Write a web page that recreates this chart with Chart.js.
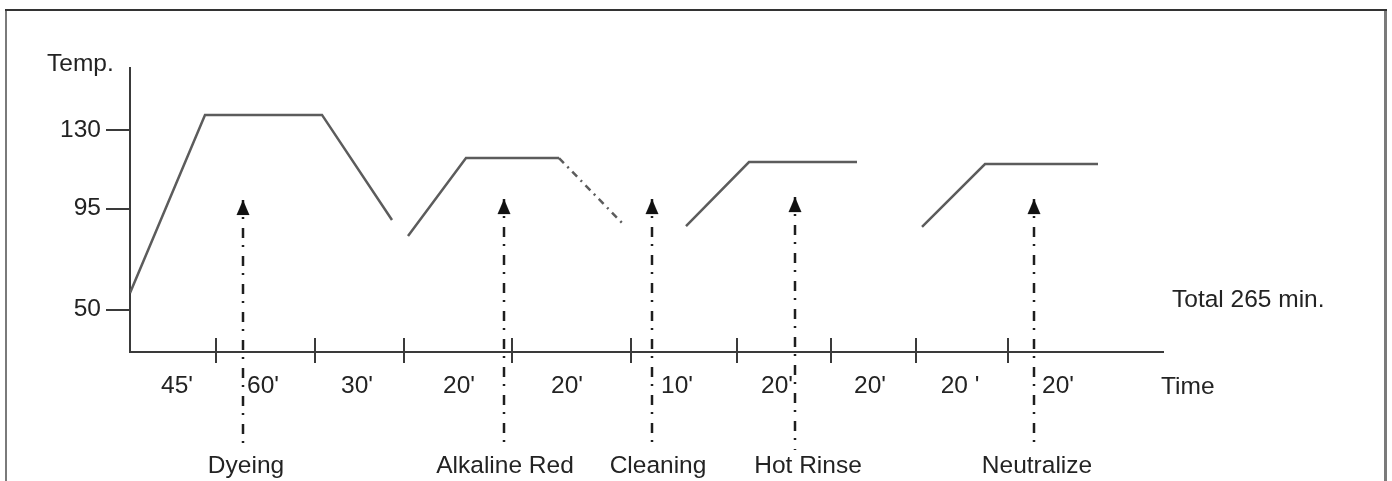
<!DOCTYPE html>
<html>
<head>
<meta charset="utf-8">
<script src="https://cdn.jsdelivr.net/npm/chart.js@4.4.1/dist/chart.umd.min.js"></script>
<style>
  html, body { margin: 0; padding: 0; background: #fff; }
  canvas { display: block; }
</style>
</head>
<body>
<canvas id="profile" width="1392" height="481"></canvas>
<script>
// temperature ticks
const yTicks = [50, 95, 130];

// time steps along the (schematic) time axis
const stepLabels = ["45'", "60'", "30'", "20'", "20'", "10'", "20'", "20'", "20 '", "20'"];
const stepLabelPos = [47, 133, 227, 329, 437, 547, 647, 740, 830, 928];
const stepBounds = [86, 185, 274, 382, 501, 607, 701, 786, 878];

// process stages (arrows)
const stages = ['Dyeing', 'Alkaline Red', 'Cleaning', 'Hot Rinse', 'Neutralize'];
const stagePos = [113, 374, 522, 665, 904];
const stageLabelPos = [116, 375, 528, 678, 907];
const stageTip = [98.8, 99.2, 99.2, 100.1, 99.2];
const stemBottom = -12.5;

// temperature profile pieces
const dyeingX = [0, 75, 192, 262];
const dyeingY = [57.4, 136.7, 136.7, 89.9];
const alkalineX = [278, 336, 429, 494];
const alkalineY = [82.8, 117.5, 117.5, 87.7];
const rinseX = [556, 619, 727];
const rinseY = [87.2, 115.7, 115.7];
const neutralX = [792, 855, 968];
const neutralY = [86.8, 114.8, 114.8];

const TEXT = '#232323';
const FAMILY = '"Liberation Sans", Arial, sans-serif';
const SIZE = 24.5;
const FONT = SIZE + 'px ' + FAMILY;

const curve = (xs, ys) => xs.map((v, i) => ({x: v, y: ys[i]}));

// arrow head drawn on a small canvas, tip sits at the point
const arrowHead = document.createElement('canvas');
arrowHead.width = 14;
arrowHead.height = 32;
const ah = arrowHead.getContext('2d');
ah.fillStyle = '#111';
ah.beginPath();
ah.moveTo(7, 16);
ah.lineTo(13.5, 31);
ah.lineTo(0.5, 31);
ah.closePath();
ah.fill();

const lineStyle = {
  borderColor: '#5c5c5c',
  borderWidth: 2.5,
  pointRadius: 0,
  tension: 0,
  fill: false,
  order: 2
};

const stems = stagePos.map((p, i) => ({
  data: [{x: p, y: stageTip[i]}, {x: p, y: stemBottom}],
  borderColor: '#1e1e1e',
  borderWidth: 2.5,
  borderDash: [10, 7, 2, 9],
  pointRadius: 0,
  clip: false,
  order: 1
}));

const decor = {
  id: 'decor',
  afterDraw(chart) {
    const {ctx, chartArea} = chart;
    const x = chart.scales.x;
    ctx.save();
    // frame
    ctx.strokeStyle = '#7a7a7a';
    ctx.lineWidth = 2;
    ctx.beginPath(); ctx.moveTo(6, 10); ctx.lineTo(6, 481); ctx.stroke();
    ctx.lineWidth = 3;
    ctx.beginPath(); ctx.moveTo(1385.5, 10); ctx.lineTo(1385.5, 481); ctx.stroke();
    ctx.strokeStyle = '#333';
    ctx.lineWidth = 2;
    ctx.beginPath(); ctx.moveTo(5, 10); ctx.lineTo(1387, 10); ctx.stroke();

    // step boundary ticks crossing the time axis
    const axisY = chartArea.bottom;
    ctx.strokeStyle = '#3a3a3a';
    ctx.lineWidth = 2;
    stepBounds.forEach(b => {
      const px = Math.round(x.getPixelForValue(b));
      ctx.beginPath();
      ctx.moveTo(px, axisY - 14);
      ctx.lineTo(px, axisY + 11);
      ctx.stroke();
    });

    // texts
    ctx.fillStyle = TEXT;
    ctx.font = FONT;
    ctx.textAlign = 'left';
    ctx.textBaseline = 'alphabetic';
    ctx.fillText('Temp.', 47, 71);
    ctx.fillText('Total 265 min.', 1172, 307);
    ctx.textBaseline = 'middle';
    ctx.fillText('Time', chartArea.right - 2, 387);
    ctx.textAlign = 'center';
    ctx.textBaseline = 'alphabetic';
    stages.forEach((s, i) => ctx.fillText(s, x.getPixelForValue(stageLabelPos[i]), 473));
    ctx.restore();
  }
};

new Chart(document.getElementById('profile'), {
  type: 'line',
  data: {
    datasets: [
      {...lineStyle, data: curve(dyeingX, dyeingY)},
      {...lineStyle, data: curve(alkalineX, alkalineY),
        segment: {borderDash: c => c.p0DataIndex === alkalineX.length - 2 ? [7, 5, 2, 5] : undefined}},
      {...lineStyle, data: curve(rinseX, rinseY)},
      {...lineStyle, data: curve(neutralX, neutralY)},
      ...stems,
      {
        data: stagePos.map((p, i) => ({x: p, y: stageTip[i]})),
        showLine: false,
        pointStyle: arrowHead,
        pointRadius: 6,
        order: 0
      }
    ]
  },
  options: {
    responsive: false,
    animation: false,
    devicePixelRatio: 1,
    events: [],
    layout: {padding: {top: 68, right: 229, left: 0, bottom: 0}},
    plugins: {legend: {display: false}, tooltip: {enabled: false}},
    scales: {
      x: {
        type: 'linear',
        min: 0,
        max: 1033,
        afterBuildTicks: s => { s.ticks = stepLabelPos.map(v => ({value: v})); },
        afterFit: s => { s.height = 129; },
        grid: {display: false, drawTicks: false},
        border: {display: true, color: '#3a3a3a', width: 2},
        ticks: {
          color: TEXT,
          font: {family: FAMILY, size: SIZE},
          padding: 20,
          autoSkip: false,
          maxRotation: 0,
          minRotation: 0,
          callback: (v, i) => stepLabels[i]
        }
      },
      y: {
        type: 'linear',
        min: 31.1,
        max: 157.6,
        afterBuildTicks: s => { s.ticks = yTicks.map(v => ({value: v})); },
        afterFit: s => { s.width = 130; },
        grid: {drawOnChartArea: false, drawTicks: true, tickLength: 24, color: '#3a3a3a', lineWidth: 2},
        border: {display: true, color: '#3a3a3a', width: 2},
        ticks: {color: TEXT, font: {family: FAMILY, size: SIZE}, padding: 5, autoSkip: false}
      }
    }
  },
  plugins: [decor]
});
</script>
</body>
</html>
